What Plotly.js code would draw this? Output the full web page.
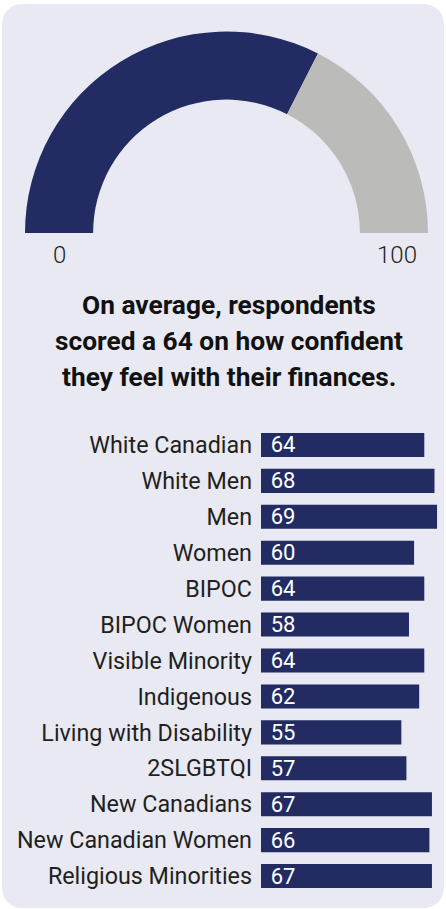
<!DOCTYPE html>
<html>
<head>
<meta charset="utf-8">
<script src="https://cdn.plot.ly/plotly-3.0.1.min.js"></script>
<style>
  html, body { margin: 0; padding: 0; background: #ffffff; }
  #wrap { position: relative; width: 446px; height: 909px; }
  #card { position: absolute; left: 2px; top: 4px; width: 442px; height: 904px; background: #e8e9f2; border-radius: 20px; }
  #chart { position: absolute; left: 0; top: 0; width: 446px; height: 909px; }
</style>
</head>
<body>
<div id="wrap"><div id="card"></div><div id="chart"></div></div>
<script>
// ---- data ----
const gaugeMin = 0;
const gaugeMax = 100;
const gaugeValue = 65;   // filled share of the gauge
const titleLines = [
  'On average, respondents',
  'scored a 64 on how confident',
  'they feel with their finances.'
];
const categories = [
  'White Canadian', 'White Men', 'Men', 'Women', 'BIPOC', 'BIPOC Women',
  'Visible Minority', 'Indigenous', 'Living with Disability', '2SLGBTQI',
  'New Canadians', 'New Canadian Women', 'Religious Minorities'
];
const scores = [64, 68, 69, 60, 64, 58, 64, 62, 55, 57, 67, 66, 67];

// ---- styling ----
const W = 446, H = 909;
const NAVY = '#222c63';
const GREY = '#bbbcba';
const TEXT = '#231f20';
const FONT = 'Roboto, "Noto Sans", sans-serif';
const px = v => v / W;
const py = v => 1 - v / H;

const gauge = {
  type: 'pie',
  values: [gaugeValue - gaugeMin, gaugeMax - gaugeValue, gaugeMax - gaugeMin],
  marker: { colors: [NAVY, GREY, 'rgba(0,0,0,0)'], line: { width: 0 } },
  sort: false,
  direction: 'clockwise',
  rotation: -90,
  hole: 0.662,
  textinfo: 'none',
  hoverinfo: 'skip',
  showlegend: false,
  domain: { x: [px(25), px(428)], y: [py(434.5), py(31.5)] }
};

const bars = {
  type: 'bar',
  orientation: 'h',
  x: scores,
  y: categories,
  marker: { color: NAVY, line: { width: 0 } },
  width: 0.67,
  text: scores.map(String),
  texttemplate: '\u2009\u200A%{text}',
  textposition: 'inside',
  insidetextanchor: 'start',
  constraintext: 'none',
  textfont: { color: '#ffffff', size: 22, family: FONT },
  hoverinfo: 'skip',
  showlegend: false
};

const annotations = [
  { text: String(gaugeMin), x: px(59), y: py(255) },
  { text: String(gaugeMax), x: px(397), y: py(255) }
].map(a => Object.assign(a, {
  xref: 'paper', yref: 'paper', showarrow: false, xanchor: 'center', yanchor: 'middle',
  font: { family: FONT, size: 24, color: TEXT, weight: 300 }
}));

const titleY = [305, 341, 377];
titleLines.forEach((t, i) => annotations.push({
  text: t, xref: 'paper', yref: 'paper', x: px(228.5), y: py(titleY[i]),
  showarrow: false, xanchor: 'center', yanchor: 'middle',
  font: { family: FONT, size: 26.3, color: '#111111', weight: 700 }
}));

const layout = {
  width: W, height: H,
  margin: { l: 0, r: 0, t: 0, b: 0, pad: 0 },
  paper_bgcolor: 'rgba(0,0,0,0)',
  plot_bgcolor: 'rgba(0,0,0,0)',
  showlegend: false,
  font: { family: FONT, color: TEXT },
  xaxis: {
    domain: [px(261), px(444.7)],
    range: [0, 72],
    visible: false,
    fixedrange: true
  },
  yaxis: {
    domain: [py(894), py(427)],
    autorange: 'reversed',
    showgrid: false, zeroline: false, showline: false,
    ticks: '',
    ticklabelstandoff: 8,
    tickfont: { family: FONT, size: 23.3, color: TEXT },
    fixedrange: true
  },
  annotations: annotations
};

Plotly.newPlot('chart', [bars, gauge], layout, { displayModeBar: false, staticPlot: true });
</script>
</body>
</html>
